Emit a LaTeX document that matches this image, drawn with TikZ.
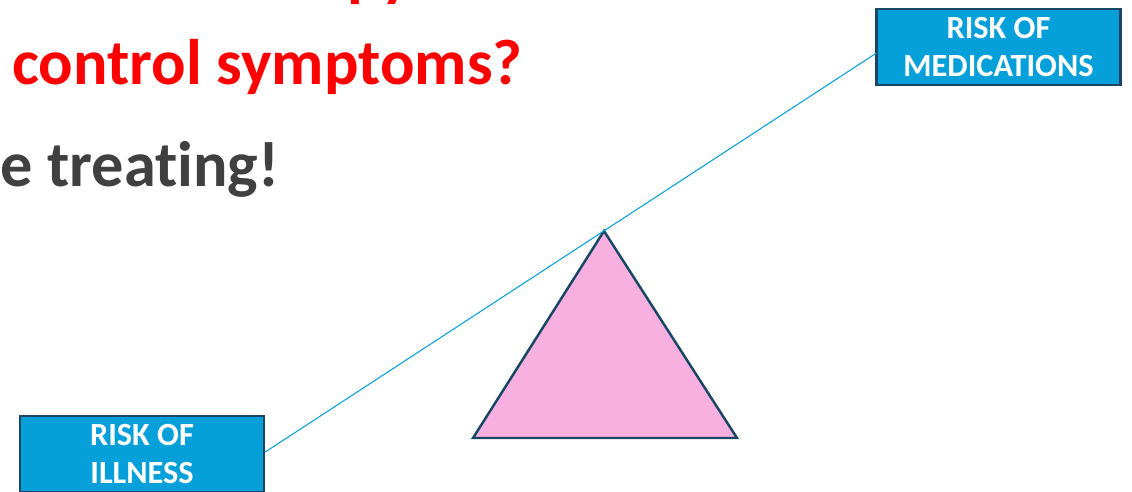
\documentclass[tikz,border=0pt]{standalone}
\usepackage{fontspec}
\setmainfont{Carlito}[Ligatures=NoCommon]
\usetikzlibrary{positioning}
\definecolor{riskblue}{RGB}{5,160,218}
\definecolor{riskedge}{RGB}{24,70,100}
\definecolor{fulcrum}{RGB}{248,176,224}
\definecolor{alertred}{RGB}{255,0,0}
\definecolor{darktext}{RGB}{64,64,64}
\begin{document}
\begin{tikzpicture}[x=0.02cm,y=-0.02cm,
  riskbox/.style={draw=riskedge,line width=1.4pt,fill=riskblue,text=white,
    font=\fontsize{18.4}{22}\selectfont\bfseries,align=center,inner sep=0pt,
    minimum width=244*0.02cm,minimum height=76*0.02cm},
  headline/.style={anchor=base west,inner sep=0pt,font=\fontsize{36.6}{44}\selectfont\bfseries}]
\useasboundingbox (0,0) rectangle (1132,491);
\clip (0,0) rectangle (1132,491);
% headline text, cut by the frame
\node[headline,text=alertred] (topline) at (347,-6) {py};
\node[headline,text=alertred] (question) at (12,84) {control symptoms?};
\node[headline,text=darktext] (answer) at (0,186) {e treating!};
% the two risks
\node[riskbox] (medrisk) at (998.5,47) {RISK OF\\MEDICATIONS};
\node[riskbox] (illrisk) at (142,454) {RISK OF\\ILLNESS};
% fulcrum
\coordinate (apex) at (604,231);
\coordinate (baseL) at (473,438);
\coordinate (baseR) at (737,438);
\filldraw[fill=fulcrum,draw=riskedge,line width=1.4pt,line join=miter] (apex) -- (baseL) -- (baseR) -- cycle;
% beam
\coordinate (medend) at (876.5,53);
\draw[riskblue,line width=0.6pt] (illrisk.east |- 0,452) -- (medend);
\end{tikzpicture}
\end{document}
